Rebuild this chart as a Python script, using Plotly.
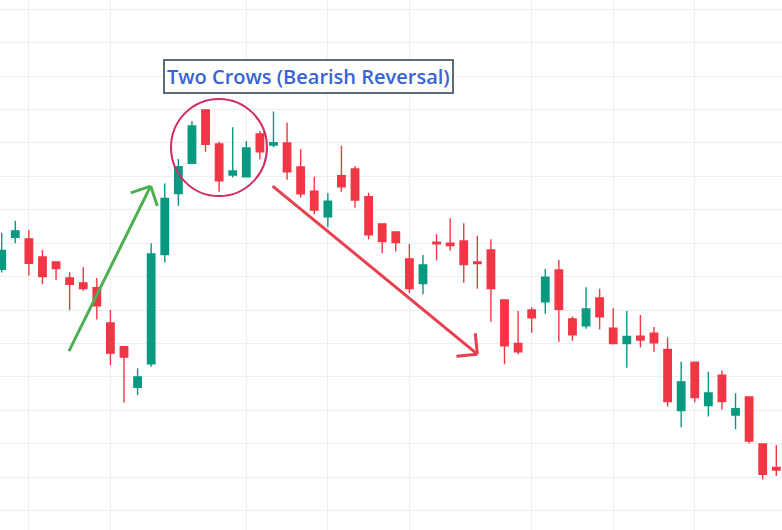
import math
import plotly.graph_objects as go

# candle data (58 sessions)
opens = [47.22, 48.18, 48.13, 47.59, 47.44, 46.96, 46.81, 46.67, 45.61, 44.90,
         43.69, 44.39, 47.66, 49.49, 50.39, 51.99, 50.97, 50.04, 49.99, 51.27,
         50.94, 51.00, 50.28, 49.56, 48.79, 50.02, 50.22, 49.39, 48.58, 48.34,
         47.53, 46.79, 48.03, 48.00, 48.07, 47.44, 47.80, 46.30, 45.00, 46.00,
         46.25, 47.20, 45.73, 45.53, 46.36, 45.46, 45.00, 45.22, 45.31, 44.82,
         42.99, 44.44, 43.14, 44.05, 42.86, 43.40, 41.99, 41.29]
highs = [48.31, 48.67, 48.40, 47.80, 47.45, 47.13, 47.28, 46.96, 46.00, 44.91,
         44.26, 48.00, 49.79, 50.52, 51.66, 52.00, 51.04, 51.47, 51.06, 51.36,
         51.94, 51.61, 50.81, 49.99, 49.50, 50.92, 50.31, 49.51, 48.60, 48.35,
         47.98, 47.65, 48.27, 48.75, 48.60, 48.22, 48.12, 46.31, 45.97, 46.08,
         47.23, 47.50, 45.81, 46.68, 46.64, 46.06, 45.97, 45.85, 45.49, 45.18,
         44.45, 44.45, 44.15, 44.18, 43.51, 43.41, 42.00, 41.96]
lows = [47.12, 48.00, 47.03, 46.77, 46.90, 46.00, 46.58, 45.72, 44.35, 43.23,
        43.45, 44.30, 47.42, 49.12, 50.36, 50.74, 49.54, 49.97, 49.97, 50.51,
        50.87, 49.90, 49.37, 48.87, 48.48, 49.54, 49.06, 48.12, 47.70, 47.75,
        46.52, 46.47, 47.48, 47.78, 46.82, 46.64, 45.65, 44.38, 44.68, 45.32,
        45.89, 45.05, 45.08, 45.44, 45.42, 44.97, 44.27, 44.88, 44.75, 43.11,
        42.49, 43.24, 42.81, 43.02, 42.43, 42.01, 40.93, 41.03]
closes = [47.78, 48.37, 47.40, 47.00, 47.24, 46.77, 46.64, 46.13, 44.71, 44.59,
          44.00, 47.68, 49.34, 50.29, 51.51, 50.96, 49.87, 50.16, 50.85, 50.74,
          51.01, 50.14, 49.48, 48.99, 49.26, 49.69, 49.29, 48.25, 48.05, 48.02,
          46.64, 47.35, 47.98, 47.93, 47.36, 47.39, 46.64, 44.93, 44.75, 45.77,
          46.98, 46.02, 45.26, 46.03, 45.80, 45.00, 45.21, 45.10, 45.02, 43.26,
          43.85, 43.38, 43.52, 43.26, 43.05, 42.08, 41.08, 41.21]
bars = list(range(len(opens)))

# sessions where the vertical grid lines fall
grid_bars = [2, 8, 18, 24, 30, 39, 45, 51]

label = "Two Crows (Bearish Reversal)"

UP = "#089981"
DOWN = "#F23645"
GRID = "#eceef2"

# pixels per unit, used to draw the arrow heads at 45 degrees
SX = 13.59
SY = 33.41

fig = go.Figure()
fig.add_trace(go.Candlestick(
    x=bars, open=opens, high=highs, low=lows, close=closes,
    increasing=dict(line=dict(color=UP, width=1.4), fillcolor=UP),
    decreasing=dict(line=dict(color=DOWN, width=1.4), fillcolor=DOWN),
    whiskerwidth=0, hoverinfo="skip", showlegend=False,
))


def arrow(x0, y0, x1, y1, color, length=21):
    ang = math.atan2((y1 - y0) * SY, (x1 - x0) * SX)
    fig.add_shape(type="line", x0=x0, y0=y0, x1=x1, y1=y1,
                  line=dict(color=color, width=3))
    for side in (1, -1):
        a = ang + math.pi + side * math.pi / 4
        fig.add_shape(type="line", x0=x1, y0=y1,
                      x1=x1 + length * math.cos(a) / SX,
                      y1=y1 + length * math.sin(a) / SY,
                      line=dict(color=color, width=3))


arrow(4.95, 44.77, 10.96, 49.71, "#4caf50")
arrow(19.94, 49.71, 35.0, 44.68, "#e8404f")

# circle round the two crows
fig.add_shape(type="circle", x0=12.46, x1=19.52, y0=49.41, y1=52.32,
              line=dict(color="#d12a66", width=2))

fig.add_annotation(
    text=label, xref="paper", yref="paper", x=0.395, y=0.855,
    xanchor="center", yanchor="middle",
    showarrow=False, font=dict(family="Open Sans", size=20, color="#3763d6", weight=600),
    bgcolor="white", bordercolor="#5b6b77", borderwidth=2, borderpad=2,
)

fig.update_layout(
    width=782, height=530,
    margin=dict(l=0, r=0, t=0, b=0),
    paper_bgcolor="white", plot_bgcolor="white",
    boxgap=0.22,
    xaxis=dict(range=[-0.125, 57.42], tickvals=grid_bars, showticklabels=False,
               gridcolor=GRID, zeroline=False, showline=False, ticks="",
               rangeslider=dict(visible=False), fixedrange=True),
    yaxis=dict(range=[39.416, 55.28], tick0=40, dtick=1, showticklabels=False,
               gridcolor=GRID, zeroline=False, showline=False, ticks="",
               fixedrange=True),
    showlegend=False,
)

# page margin off so the chart sits flush in the window
fig.write_html("out.html", config={"displayModeBar": False},
               post_script="document.body.style.margin='0';")
